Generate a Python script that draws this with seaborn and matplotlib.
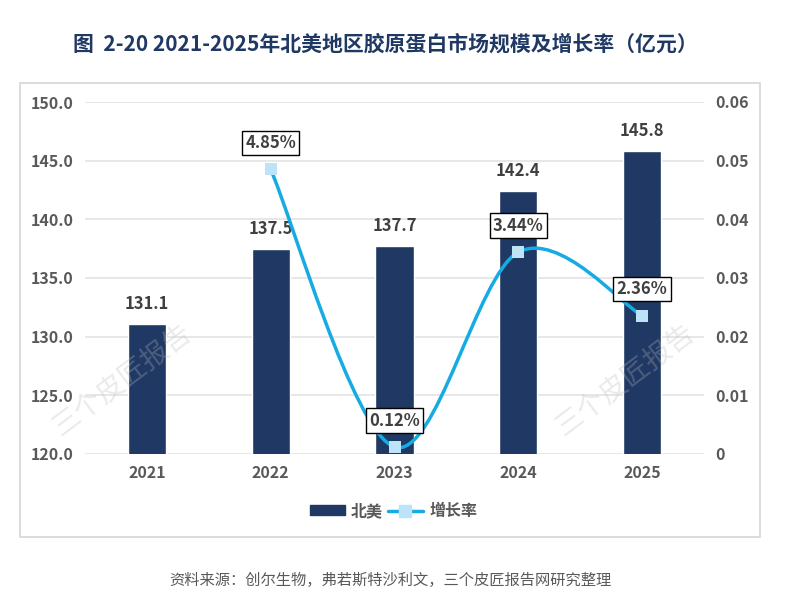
import seaborn as sns
import matplotlib
import matplotlib.pyplot as plt
from matplotlib.path import Path
from matplotlib.patches import PathPatch, Patch, Rectangle
from matplotlib.lines import Line2D

matplotlib.use('Agg')

# Data
years = ["2021", "2022", "2023", "2024", "2025"]
market_size = [131.1, 137.5, 137.7, 142.4, 145.8]
growth_years = ["2022", "2023", "2024", "2025"]
growth_rate = [0.0485, 0.0012, 0.0344, 0.0236]
growth_labels = ["4.85%", "0.12%", "3.44%", "2.36%"]
left_ticks = [120, 125, 130, 135, 140, 145, 150]
right_ticks = [0, 0.01, 0.02, 0.03, 0.04, 0.05, 0.06]
right_tick_labels = ["0", "0.01", "0.02", "0.03", "0.04", "0.05", "0.06"]

BAR_COLOR = "#1F3864"
LINE_COLOR = "#17ABE3"
MARKER_COLOR = "#BDE3F8"
TEXT_DARK = "#404040"
TEXT_GRAY = "#595959"
GRID_COLOR = "#E3E3E3"

sns.set_theme(style="white")
plt.rcParams['font.family'] = ['Noto Sans CJK SC', 'DejaVu Sans']
plt.rcParams['axes.unicode_minus'] = False


def smooth_path(xs, ys, t=1 / 6):
    # Catmull-Rom style bezier through the points (like a smoothed office line)
    n = len(xs)
    verts = [(xs[0], ys[0])]
    codes = [Path.MOVETO]
    for i in range(n - 1):
        x0, y0 = xs[max(i - 1, 0)], ys[max(i - 1, 0)]
        x1, y1 = xs[i], ys[i]
        x2, y2 = xs[i + 1], ys[i + 1]
        x3, y3 = xs[min(i + 2, n - 1)], ys[min(i + 2, n - 1)]
        c1 = (x1 + (x2 - x0) * t, y1 + (y2 - y0) * t)
        c2 = (x2 - (x3 - x1) * t, y2 - (y3 - y1) * t)
        verts += [c1, c2, (x2, y2)]
        codes += [Path.CURVE4] * 3
    return Path(verts, codes)


fig = plt.figure(figsize=(7.87, 6.07), dpi=100)
ax = fig.add_axes([85 / 787, 1 - 454 / 607, 619 / 787, 352 / 607])

# Outer frame around the chart
fig.patches.append(Rectangle((20 / 787, 1 - 537 / 607), 740 / 787, 454 / 607,
                             transform=fig.transFigure, fill=False,
                             edgecolor="#D9D9D9", linewidth=1.3, zorder=0))

# Bars
sns.barplot(x=years, y=market_size, color=BAR_COLOR, width=0.31,
            saturation=1, ax=ax, zorder=2)
ax.set_ylim(120, 150)
ax.set_yticks(left_ticks)
ax.set_yticklabels([f"{v:.1f}" for v in left_ticks])
ax.yaxis.grid(True, color=GRID_COLOR, linewidth=1.2, zorder=0)
ax.set_axisbelow(True)
for s in ax.spines.values():
    s.set_visible(False)
ax.tick_params(axis="both", length=0, labelsize=11.5, labelcolor=TEXT_GRAY)
ax.tick_params(axis="y", pad=8)
ax.tick_params(axis="x", pad=8)
for lab in ax.get_xticklabels() + ax.get_yticklabels():
    lab.set_fontweight("bold")
ax.set_xlabel("")
ax.set_ylabel("")

for i, v in enumerate(market_size):
    ax.annotate(f"{v:.1f}", (i, v), xytext=(0, 8), textcoords="offset points",
                ha="center", va="bottom", fontsize=12, fontweight="bold",
                color=TEXT_DARK)

# Growth rate on the secondary axis
ax2 = ax.twinx()
ax2.set_ylim(0, 0.06)
ax2.set_yticks(right_ticks)
ax2.set_yticklabels(right_tick_labels)
for s in ax2.spines.values():
    s.set_visible(False)
ax2.tick_params(axis="y", length=0, labelsize=11.5, labelcolor=TEXT_GRAY, pad=8)
for lab in ax2.get_yticklabels():
    lab.set_fontweight("bold")
ax2.grid(False)

gx = [years.index(y) for y in growth_years]
ax2.add_patch(PathPatch(smooth_path(gx, growth_rate), facecolor="none",
                        edgecolor=LINE_COLOR, linewidth=2.5, zorder=3,
                        capstyle="round"))
sns.scatterplot(x=gx, y=growth_rate, marker="s", s=85, color=MARKER_COLOR,
                edgecolor=MARKER_COLOR, linewidth=0, zorder=4, ax=ax2)
ax2.set_xlim(-0.5, len(years) - 0.5)

for x, v, lab in zip(gx, growth_rate, growth_labels):
    ax2.annotate(lab, (x, v), xytext=(0, 19), textcoords="offset points",
                 ha="center", va="center", fontsize=12, fontweight="bold",
                 color=TEXT_DARK, zorder=5,
                 bbox=dict(boxstyle="square,pad=0.2", facecolor="white",
                           edgecolor="black", linewidth=1))

# Watermarks
for wx in (122 / 787, 625 / 787):
    fig.text(wx, 1 - 380 / 607, "三个皮匠报告", rotation=37, fontsize=20,
             color="#BBBBBB", alpha=0.3, ha="center", va="center", zorder=10)

# Legend
handles = [Patch(facecolor=BAR_COLOR, edgecolor=BAR_COLOR),
           Line2D([0], [0], color=LINE_COLOR, linewidth=2.5, marker="s",
                  markersize=9, markerfacecolor=MARKER_COLOR,
                  markeredgecolor=MARKER_COLOR)]
leg = fig.legend(handles, ["北美", "增长率"], loc="center",
                 bbox_to_anchor=(0.5, 1 - 511 / 607), ncol=2, frameon=False,
                 handlelength=2.2, handleheight=0.6, handletextpad=0.4,
                 columnspacing=0.3, prop={"size": 11.5, "weight": "bold"})
for t in leg.get_texts():
    t.set_color(TEXT_GRAY)

# Title and source
fig.text(385 / 787, 1 - 44 / 607,
         "图  2-20 2021-2025年北美地区胶原蛋白市场规模及增长率（亿元）",
         ha="center", va="center", fontsize=15, fontweight="bold",
         color=BAR_COLOR)
fig.text(390 / 787, 1 - 580 / 607,
         "资料来源：创尔生物，弗若斯特沙利文，三个皮匠报告网研究整理",
         ha="center", va="center", fontsize=11, color=TEXT_GRAY)

plt.savefig("out.png", dpi=100)
